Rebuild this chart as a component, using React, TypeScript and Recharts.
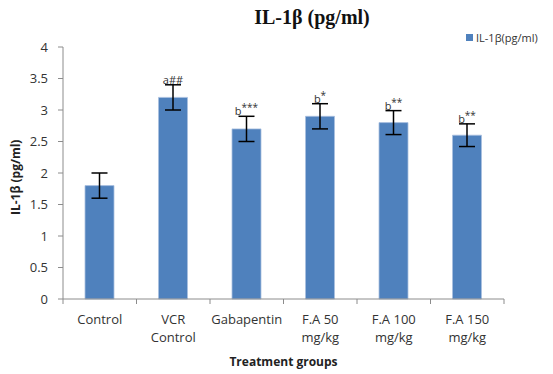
import { BarChart, Bar, XAxis, YAxis, ErrorBar, LabelList } from "recharts";

const groups = ["Control", "VCR\nControl", "Gabapentin", "F.A 50\nmg/kg", "F.A 100\nmg/kg", "F.A 150\nmg/kg"];
const il1b = [1.8, 3.2, 2.7, 2.9, 2.8, 2.6];
const sem = [0.2, 0.2, 0.2, 0.2, 0.19, 0.18];
const sigLetter = ["", "a", "b", "b", "b", "b"];
const sigMark = ["", "##", "***", "*", "**", "**"];
const yTicks = [0, 0.5, 1, 1.5, 2, 2.5, 3, 3.5, 4];

const data = groups.map((g, i) => ({
  group: g,
  value: il1b[i],
  err: sem[i],
  letter: sigLetter[i],
  mark: sigMark[i],
}));

const font = "'Open Sans', sans-serif";
const axisColor = "#8c8c8c";

// excel-style ticks: marks sit between categories, not under them
function GroupTick(props: any) {
  const { x, y, payload, index, width } = props;
  const band = width / groups.length;
  const lines = String(payload.value).split("\n");
  return (
    <g transform={`translate(${x},${y})`}>
      <line x1={-band / 2} x2={-band / 2} y1={0} y2={5} stroke={axisColor} />
      {index === groups.length - 1 && <line x1={band / 2} x2={band / 2} y1={0} y2={5} stroke={axisColor} />}
      {lines.map((ln, i) => (
        <text key={i} x={0} y={25 + i * 18} textAnchor="middle" fontSize={13} fontFamily={font} style={{ fill: "#333" }}>
          {ln}
        </text>
      ))}
    </g>
  );
}

function SigLabel(props: any) {
  const { x, y, width, height, index } = props;
  const d = data[index];
  if (!d.letter) return null;
  const pxPerUnit = height / d.value;
  const top = y - d.err * pxPerUnit;
  const sup = d.mark.startsWith("*");
  return (
    <text x={x + width / 2} y={top - 1} textAnchor="middle" fontSize={11} fontFamily={font} style={{ fill: "#333" }}>
      {d.letter}
      <tspan dy={sup ? -4 : 0} fontSize={sup ? 10 : 11}>{d.mark}</tspan>
    </text>
  );
}

export default function App() {
  return (
    <div style={{ position: "absolute", left: 0, top: 0, width: 553, height: 374, background: "#fff" }}>
      <div
        style={{
          position: "absolute",
          left: 212,
          width: 200,
          top: 6,
          textAlign: "center",
          fontFamily: "'Liberation Serif', serif",
          fontWeight: "bold",
          fontSize: 20,
          color: "#111",
        }}
      >
        IL-1β (pg/ml)
      </div>
      <div
        style={{
          position: "absolute",
          left: 466,
          top: 30,
          fontFamily: font,
          fontSize: 11,
          color: "#333",
          display: "flex",
          alignItems: "center",
          whiteSpace: "nowrap",
        }}
      >
        <span style={{ display: "inline-block", width: 7, height: 7, background: "#4f81bd", marginRight: 3 }} />
        IL-1β(pg/ml)
      </div>
      <BarChart width={553} height={374} data={data} margin={{ top: 47, right: 49, bottom: 0, left: 0 }}>
        <XAxis
          dataKey="group"
          tick={<GroupTick />}
          tickLine={false}
          tickSize={0}
          tickMargin={0}
          stroke={axisColor}
          interval={0}
          height={75}
          label={{ value: "Treatment groups", position: "insideBottom", offset: 8, fontFamily: font, fontSize: 12, fontWeight: "bold", fill: "#222" }}
        />
        <YAxis
          domain={[0, 4]}
          ticks={yTicks}
          width={63}
          tickSize={5}
          tickMargin={10}
          stroke={axisColor}
          tick={{ fontSize: 13, fontFamily: font, fill: "#333" }}
          label={{ value: "IL-1β (pg/ml)", angle: -90, position: "insideLeft", offset: 16, fontFamily: font, fontSize: 12, fontWeight: "bold", fill: "#222", dy: 42 }}
        />
        <Bar dataKey="value" fill="#4f81bd" stroke="#a9c0df" strokeWidth={0.8} barSize={29} isAnimationActive={false}>
          <ErrorBar dataKey="err" width={8} stroke="#000" strokeWidth={1.5} direction="y" />
          <LabelList dataKey="value" content={<SigLabel />} />
        </Bar>
      </BarChart>
    </div>
  );
}
